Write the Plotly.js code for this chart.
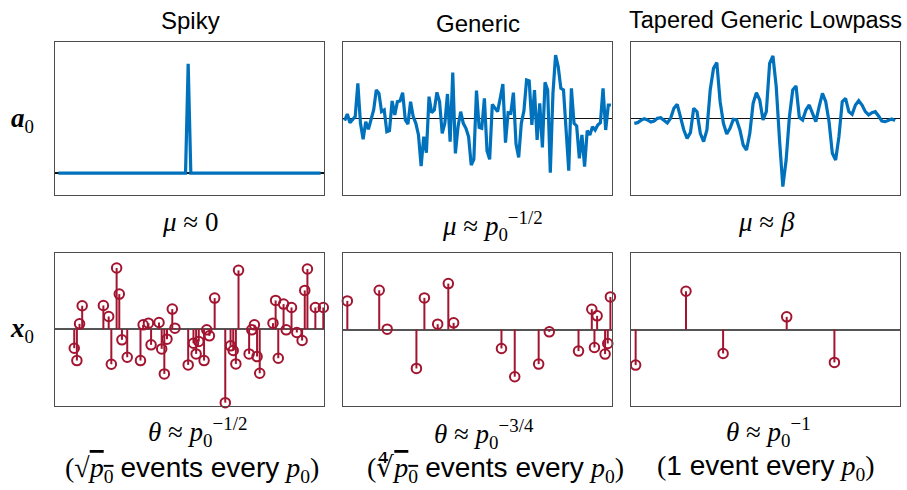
<!DOCTYPE html>
<html><head><meta charset="utf-8">
<script src="https://cdn.plot.ly/plotly-3.0.1.min.js"></script>
<style>html,body{margin:0;padding:0;background:#fff}</style>
</head><body><div id="chart" style="width:907px;height:490px"></div>
<script>
const columnTitles = ['Spiky', 'Generic', 'Tapered Generic Lowpass'];

// Top row: a0 signals
const spikyAIndex = [0, 48, 49, 50, 99];
const spikyAValue = [0, 0, 1, 0, 0];

const genericAValue = [-0.06,0.14,-0.12,-0.04,0.06,1.06,-0.14,-0.62,-0.09,-0.32,
  -0.01,0.26,0.86,0.76,0.21,0.26,-0.39,-0.36,0.53,0.11,
  0.51,0.53,0.78,-0.04,-0.16,0.51,0.06,-0.14,-0.49,-1.42,
  -0.54,-1.02,0.66,0.18,0.26,0.79,0.51,-0.44,-0.14,0.74,
  -0.69,1.38,-1.04,-0.24,0.21,-0.14,-0.29,-0.54,-1.39,-1.22,
  0.84,-0.26,-0.29,0.61,-0.97,-1.22,0.43,0.31,0.21,0.61,
  1.04,-0.72,0.18,0.16,0.78,-0.76,-1.16,-0.14,0.24,1.16,
  1.13,-0.19,0.86,-0.64,0.46,-0.86,1.09,0.86,-1.62,0.76,
  1.91,1.56,0.91,0.86,-0.54,-1.56,0.91,-0.14,-0.22,-1.19,
  -0.49,-1.44,-0.36,-0.49,-0.24,-0.34,-0.19,-0.12,0.91,-0.34,
  0.41,0.41];

const taperedAValue = [-0.14,-0.12,-0.05,0,-0.04,-0.10,-0.07,0.01,0.03,-0.04,
  -0.13,0.01,0.31,0.43,0.06,-0.34,-0.59,-0.42,0.31,0.21,
  -0.44,-0.69,-0.34,0.86,1.51,1.68,0.51,-0.14,-0.46,-0.29,
  -0.02,-0.04,-0.34,-0.79,-0.94,-0.44,0.46,0.78,0.56,-0.04,
  0.21,1.66,1.88,0.96,-0.64,-2.04,-1.24,0.06,0.86,0.98,
  0.04,-0.04,0.26,0.41,0.16,-0.09,0.36,0.76,0.51,-0.09,
  -1.04,-1.24,-0.54,0.51,0.61,0.21,0.13,0.41,0.54,0.41,
  0.21,0.11,0.18,0.21,0.08,-0.07,-0.09,-0.04,-0.01,-0.06];

// Bottom row: x0 sparse events
const spikyXIndex = [6,7,8,9,17,19,20,22,23,24,26,31,32,34,35,38,39,40,41,43,44,
  49,51,52,53,55,56,57,59,63,65,66,67,68,72,73,74,75,76,81,82,83,85,86,88,90,92,93,94,97,100];
const spikyXValue = [-0.57,-0.94,0.16,0.70,0.71,0.38,-1.05,1.83,1.05,-0.32,-0.84,-0.94,0.13,0.18,-0.47,0.20,-0.59,-1.34,-0.30,0.60,0.03,
  -1.07,-0.42,-0.74,-0.37,-0.94,-0.02,-0.20,0.93,-2.20,-0.50,-0.64,-1.04,1.76,-0.74,-0.02,0.13,-0.82,-1.32,0.18,0.86,-0.87,0.75,-0.02,0.65,-0.10,-0.34,1.16,1.80,0.65,0.65];

const genericXIndex = [1,13,16,27,30,35,39,41,59,64,73,77,88,93,94,95,98,99,100];
const genericXValue = [0.86,1.18,0.01,-1.17,0.95,0.16,1.38,0.20,-0.57,-1.42,-1.04,-0.07,-0.65,0.61,-0.54,0.41,-0.74,-0.42,0.98];

const taperedXIndex = [1,20,34,58,76];
const taperedXValue = [-1.07,1.15,-0.72,0.38,-0.99];

const BLUE = '#0072BD', RED = '#A2142F';
const W = 907, H = 490;

function idx(n){ const a=[]; for(let i=0;i<n;i++) a.push(i); return a; }
function stems(ix, v){
  const xs=[], ys=[];
  for(let i=0;i<ix.length;i++){ xs.push(ix[i], ix[i], null); ys.push(0, v[i], null); }
  return {xs, ys};
}

const traces = [];
function lineTrace(x, y, ax){
  traces.push({type:'scatter', mode:'lines', x, y, xaxis:'x'+ax, yaxis:'y'+ax,
    line:{color:BLUE, width:3.2}, hoverinfo:'skip', showlegend:false});
}
function stemTrace(ix, v, ax){
  const s = stems(ix, v);
  traces.push({type:'scatter', mode:'lines', x:s.xs, y:s.ys, xaxis:'x'+ax, yaxis:'y'+ax,
    line:{color:RED, width:2}, hoverinfo:'skip', showlegend:false});
  traces.push({type:'scatter', mode:'markers', x:ix, y:v, xaxis:'x'+ax, yaxis:'y'+ax,
    cliponaxis:false,
    marker:{symbol:'circle-open', size:9.5, color:RED, line:{color:RED, width:2}},
    hoverinfo:'skip', showlegend:false});
}

lineTrace(spikyAIndex, spikyAValue, 1);
lineTrace(idx(genericAValue.length), genericAValue, 2);
lineTrace(idx(taperedAValue.length), taperedAValue, 3);
stemTrace(spikyXIndex, spikyXValue, 4);
stemTrace(genericXIndex, genericXValue, 5);
stemTrace(taperedXIndex, taperedXValue, 6);

const colPx = [[55,324],[343,612],[631,900]];
const rowPx = [[42,195],[253,406]];
const xRanges = [[-1.26,100.26],[-0.63,101.4],[-1,80.5],[-1.26,100.26],[-0.63,100.6],[-0.75,100.75]];
const yRanges = [[-0.2,1.2],[-2.29,2.30],[-2.29,2.30],[-2.30,2.28],[-2.30,2.30],[-2.30,2.30]];

const layout = {width:W, height:H, margin:{l:0,r:0,t:0,b:0}, paper_bgcolor:'#fff', plot_bgcolor:'#fff',
  showlegend:false, annotations:[]};

for(let k=0;k<6;k++){
  const c = k%3, r = Math.floor(k/3);
  const xd = [colPx[c][0]/W, colPx[c][1]/W];
  const yd = [1-rowPx[r][1]/H, 1-rowPx[r][0]/H];
  const sfx = k===0 ? '' : String(k+1);
  layout['xaxis'+sfx] = {domain:xd, range:xRanges[k], anchor:'y'+(k+1), showticklabels:false, ticks:'',
    showgrid:false, zeroline:false, showline:true, mirror:true, linecolor:'#4d4d4d', linewidth:1.2, fixedrange:true};
  layout['yaxis'+sfx] = {domain:yd, range:yRanges[k], anchor:'x'+(k+1), showticklabels:false, ticks:'',
    showgrid:false, zeroline:true, zerolinecolor: r===0 ? '#111' : '#555', zerolinewidth: r===0 ? 1.3 : 2,
    showline:true, mirror:true, linecolor:'#4d4d4d', linewidth:1.2, fixedrange:true};
}

function ann(text, x, y, size, family){
  layout.annotations.push({text, x:x/W, y:1-y/H, xref:'paper', yref:'paper', xanchor:'center', yanchor:'middle',
    showarrow:false, font:{size, family, color:'#000'}});
}
const SANS = 'Liberation Sans, Arial, sans-serif';
const SERIF = 'Liberation Serif, Times New Roman, serif';
ann(columnTitles[0], 190, 21, 24, SANS);
ann(columnTitles[1], 478, 23, 24, SANS);
ann(columnTitles[2], 765, 20, 23.5, SANS);

ann('<b><i>a</i></b><sub>0</sub>', 22, 120, 27, SERIF);
ann('<b><i>x</i></b><sub>0</sub>', 22, 330, 27, SERIF);

const muLabels = ['<i>μ</i> ≈ 0', '<i>μ</i> ≈ <i>p</i><sub>0</sub><sup>−1/2</sup>', '<i>μ</i> ≈ <i>β</i>'];
ann(muLabels[0], 190, 222, 27, SERIF);
ann(muLabels[1], 492, 226, 27, SERIF);
ann(muLabels[2], 766, 222, 27, SERIF);

const thetaLabels = ['<i>θ</i> ≈ <i>p</i><sub>0</sub><sup>−1/2</sup>', '<i>θ</i> ≈ <i>p</i><sub>0</sub><sup>−3/4</sup>', '<i>θ</i> ≈ <i>p</i><sub>0</sub><sup>−1</sup>'];
ann(thetaLabels[0], 197, 432, 27, SERIF);
ann(thetaLabels[1], 484, 434, 27, SERIF);
ann(thetaLabels[2], 768, 432, 27, SERIF);

const sp = s => '<span style="font-family:Liberation Sans, Arial, sans-serif">'+s+'</span>';
const ov = s => '<span style="text-decoration:overline">'+s+'</span>';
const eventLabels = [
  '(√'+ov('<i>p</i><sub>0</sub>')+' '+sp('events every')+' <i>p</i><sub>0</sub>)',
  '(∜'+ov('<i>p</i><sub>0</sub>')+' '+sp('events every')+' <i>p</i><sub>0</sub>)',
  '('+sp('1 event every')+' <i>p</i><sub>0</sub>)'
];
ann(eventLabels[0], 192, 469, 28, SERIF);
ann(eventLabels[1], 495, 469, 28, SERIF);
ann(eventLabels[2], 766, 467, 28, SERIF);

Plotly.newPlot('chart', traces, layout, {staticPlot:true, displayModeBar:false});
</script></body></html>
